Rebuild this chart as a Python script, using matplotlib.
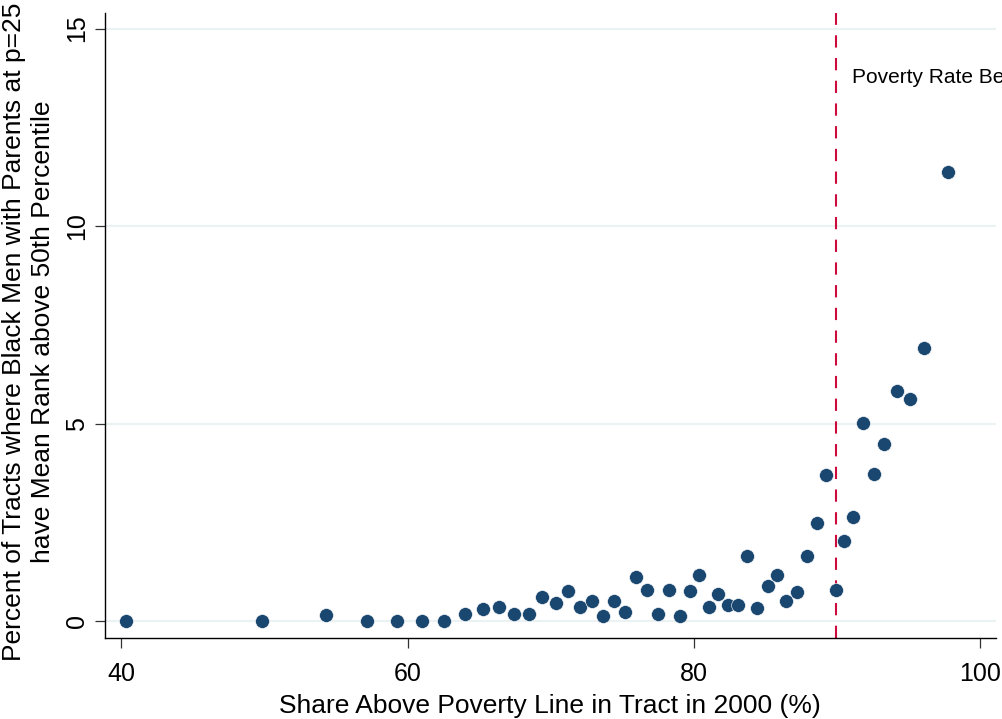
import matplotlib
matplotlib.use("Agg")
import matplotlib.pyplot as plt

# Data
share_above_poverty = [40.35, 49.81, 54.31, 57.15, 59.25, 60.98, 62.55, 63.99, 65.24, 66.41,
                       67.41, 68.48, 69.39, 70.35, 71.21, 72.03, 72.87, 73.66, 74.41, 75.20,
                       75.94, 76.73, 77.50, 78.23, 79.00, 79.72, 80.37, 81.05, 81.70, 82.36,
                       83.08, 83.73, 84.41, 85.17, 85.80, 86.45, 87.17, 87.87, 88.57, 89.25,
                       89.90, 90.46, 91.14, 91.84, 92.57, 93.31, 94.17, 95.06, 96.10, 97.72]
pct_tracts = [0.00, 0.00, 0.15, 0.00, 0.00, 0.00, 0.00, 0.18, 0.31, 0.35,
              0.19, 0.18, 0.60, 0.46, 0.76, 0.35, 0.51, 0.13, 0.51, 0.23,
              1.11, 0.80, 0.19, 0.80, 0.13, 0.76, 1.16, 0.35, 0.68, 0.40,
              0.41, 1.65, 0.32, 0.89, 1.16, 0.50, 0.74, 1.66, 2.49, 3.69,
              0.80, 2.02, 2.63, 5.01, 3.72, 4.49, 5.82, 5.63, 6.91, 11.38]
x_ticks = [40, 60, 80, 100]
y_ticks = [0, 5, 10, 15]
poverty_cutoff = 89.9
cutoff_label = "Poverty Rate Below 10%"
x_label = "Share Above Poverty Line in Tract in 2000 (%)"
y_label_1 = "Percent of Tracts where Black Men with Parents at p=25"
y_label_2 = "have Mean Rank above 50th Percentile"

plt.rcParams['font.family'] = ['Liberation Sans', 'DejaVu Sans']

W, H = 1003, 719
fig = plt.figure(figsize=(W / 100, H / 100), dpi=100)
ax = fig.add_axes([105 / W, 1 - 637.7 / H, (996 - 105) / W, (637.7 - 12.7) / H])

ax.set_xlim(38.85, 101.1)
ax.set_ylim(-0.42, 15.4)

for yv in y_ticks:
    ax.axhline(yv, color='#eaf2f3', lw=1.5, zorder=0)

ax.axvline(poverty_cutoff, color='#cc0a3c', lw=1.5, dashes=(5.9, 5.0), zorder=1)

ax.scatter(share_above_poverty, pct_tracts, s=100, color='#1a476f',
           edgecolors='white', linewidths=0.4, zorder=3)

ax.text(91.05, 13.75, cutoff_label, fontsize=15, ha='left', va='center', color='black')

ax.set_xticks(x_ticks)
ax.set_yticks(y_ticks)
ax.tick_params(axis='both', direction='out', length=7.2, width=0.9, colors='#333333',
               labelsize=18, labelcolor='black')
ax.tick_params(axis='x', pad=10.5)
ax.tick_params(axis='y', pad=4.5, labelrotation=90)
for lab in ax.get_yticklabels():
    lab.set_va('center')

for side in ['top', 'right']:
    ax.spines[side].set_visible(False)
for side in ['left', 'bottom']:
    ax.spines[side].set_linewidth(1.0)
    ax.spines[side].set_color('black')

fig.text(550 / W, 1 - 713 / H, x_label, fontsize=19, ha='center', va='baseline')
fig.text(20.7 / W, 1 - 332 / H, y_label_1, fontsize=19, rotation=90,
         rotation_mode='anchor', ha='center', va='baseline')
fig.text(50 / W, 1 - 332 / H, y_label_2, fontsize=19, rotation=90,
         rotation_mode='anchor', ha='center', va='baseline')

fig.savefig("out.png", dpi=100)
